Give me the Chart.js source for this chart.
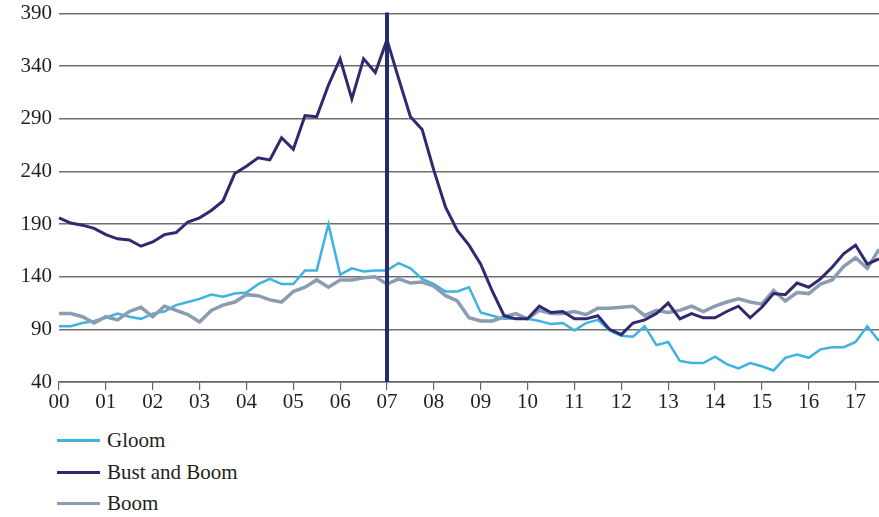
<!DOCTYPE html>
<html>
<head>
<meta charset="utf-8">
<script src="https://cdn.jsdelivr.net/npm/chart.js@4.4.1/dist/chart.umd.min.js"></script>
<style>
  body { margin: 0; background: #fff; font-family: "Liberation Serif", serif; overflow: hidden; }
  #wrap { position: relative; width: 879px; height: 426px; margin-top: -6px; }
  #legend { position: absolute; left: 57px; top: 425px; }
  .item { display: flex; align-items: center; height: 31.5px; font-size: 21px; color: #231f20; }
  .swatch { width: 43px; height: 3px; margin-right: 7px; }
</style>
</head>
<body>
<div id="wrap"><canvas id="chart"></canvas></div>
<div id="legend"></div>
<script>
// quarterly, 2000 Q1 .. 2017 Q3
const years = ['00','01','02','03','04','05','06','07','08','09','10','11','12','13','14','15','16','17'];
const quarters = [];
years.forEach(y => { for (let q = 1; q <= 4; q++) quarters.push(y + 'Q' + q); });
const labels = quarters.slice(0, 71);

const gloom = [93, 93, 96, 98, 101, 105, 102, 100, 105, 107, 113, 116, 119, 123, 121, 124, 125, 133, 138, 133,
  133, 146, 146, 190, 142, 148, 145, 146, 146, 153, 148, 138, 133, 126, 126, 130, 106, 103, 100, 100,
  100, 98, 95, 96, 89, 96, 99, 89, 84, 83, 93, 75, 78, 60, 58, 58, 64, 57, 53, 58,
  55, 51, 63, 66, 63, 71, 73, 73, 78, 93, 79];

const bustAndBoom = [196, 191, 189, 186, 180, 176, 175, 169, 173, 180, 182, 192, 196, 203, 212, 238, 245, 253, 251, 272,
  261, 293, 292, 322, 347, 309, 347, 334, 365, 328, 292, 280, 241, 206, 184, 170, 152, 126, 103, 100,
  100, 112, 106, 107, 100, 100, 103, 90, 85, 96, 99, 105, 115, 100, 105, 101, 101, 107, 112, 101,
  111, 124, 123, 134, 130, 138, 149, 162, 170, 152, 157];

const boom = [105, 105, 102, 96, 102, 99, 107, 111, 102, 112, 108, 104, 97, 108, 113, 116, 123, 122, 118, 116,
  126, 130, 137, 130, 137, 137, 139, 140, 133, 138, 134, 135, 131, 122, 117, 101, 98, 98, 102, 105,
  100, 108, 105, 105, 107, 104, 110, 110, 111, 112, 103, 108, 106, 108, 112, 107, 112, 116, 119, 116,
  114, 127, 117, 125, 124, 133, 137, 150, 158, 148, 166];

const yTicks = [40, 90, 140, 190, 240, 290, 340, 390];
const markerLabel = '07Q1';

const font = { family: '"Liberation Serif", serif', size: 21 };

const markerLine = {
  id: 'markerLine',
  afterDatasetsDraw(chart) {
    const x = chart.scales.x.getPixelForValue(labels.indexOf(markerLabel));
    const { top, bottom } = chart.chartArea;
    const ctx = chart.ctx;
    ctx.save();
    ctx.strokeStyle = '#272a6c';
    ctx.lineWidth = 4;
    ctx.beginPath();
    ctx.moveTo(x, top - 1);
    ctx.lineTo(x, bottom);
    ctx.stroke();
    ctx.restore();
  }
};

const chart = new Chart(document.getElementById('chart').getContext('2d'), {
  type: 'line',
  data: {
    labels: labels,
    datasets: [
      { label: 'Gloom', data: gloom, borderColor: '#3fb3e0', borderWidth: 2.5, order: 3 },
      { label: 'Bust and Boom', data: bustAndBoom, borderColor: '#2f2a70', borderWidth: 3, order: 1 },
      { label: 'Boom', data: boom, borderColor: '#8a9db2', borderWidth: 3.5, order: 2 },
    ],
  },
  options: {
    responsive: true,
    maintainAspectRatio: false,
    animation: false,
    layout: { padding: { top: 2, right: 0 } },
    elements: { point: { radius: 0 }, line: { tension: 0 } },
    plugins: { legend: { display: false }, tooltip: { enabled: false } },
    scales: {
      x: {
        offset: false,
        grid: { drawOnChartArea: false, drawTicks: true, tickLength: 8, color: '#666', lineWidth: 1.2 },
        border: { color: '#666', width: 1.5 },
        ticks: {
          autoSkip: false, maxRotation: 0, padding: 0, color: '#231f20', font: font,
          callback: (v, i) => (i % 4 === 0 ? labels[i].slice(0, 2) : null),
        },
        afterFit: s => { s.height = 38; },
      },
      y: {
        min: yTicks[0], max: yTicks[yTicks.length - 1],
        afterBuildTicks: s => { s.ticks = yTicks.map(v => ({ value: v })); },
        grid: { color: '#6e6e6e', lineWidth: 1.5, drawTicks: false },
        border: { display: false },
        ticks: { padding: 7, color: '#231f20', font: font },
        afterFit: s => { s.width = 59; },
      },
    },
  },
  plugins: [markerLine],
});

// legend stacked under the chart
const legend = document.getElementById('legend');
chart.data.datasets.forEach(ds => {
  const row = document.createElement('div');
  row.className = 'item';
  row.innerHTML = '<span class="swatch" style="background:' + ds.borderColor + '"></span>' + ds.label;
  legend.appendChild(row);
});
</script>
</body>
</html>
